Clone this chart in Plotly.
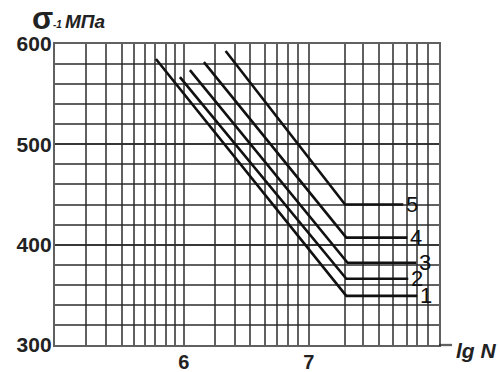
import plotly.graph_objects as go

# Fatigue curves: stress amplitude sigma_-1 (MPa) versus lg N, five variants
curve_ids = ["1", "2", "3", "4", "5"]
start_lgN = [5.776, 5.968, 6.048, 6.160, 6.334]
start_sigma = [585, 567, 574, 582, 593]
knee_lgN = [7.30, 7.30, 7.31, 7.30, 7.29]
endurance_sigma = [349, 366, 382, 407, 440]
end_lgN = [7.868, 7.796, 7.860, 7.788, 7.756]

# axis ticks
x_label_vals = [6, 7]
x_label_text = ["6", "7"]
# log-paper style vertical rulings (lg N units) inside each decade
x_grid_vals = [5.214, 5.374, 5.502, 5.600, 5.688, 5.768, 5.856, 5.928,
               6.252, 6.408, 6.528, 6.648, 6.742, 6.830, 6.910,
               7.292, 7.434, 7.562, 7.674, 7.782, 7.866, 7.954]
y_label_vals = [300, 400, 500, 600]
y_grid_step = 20

GRID = "rgba(40,40,40,0.74)"
FONT = "Liberation Sans, Arial, sans-serif"

fig = go.Figure()

for i, cid in enumerate(curve_ids):
    fig.add_trace(go.Scatter(
        x=[start_lgN[i], knee_lgN[i], end_lgN[i]],
        y=[start_sigma[i], endurance_sigma[i], endurance_sigma[i]],
        mode="lines",
        line=dict(color="#111111", width=2.6),
        showlegend=False,
        hoverinfo="skip",
        name=cid,
    ))
    fig.add_annotation(
        x=end_lgN[i], y=endurance_sigma[i], text=cid,
        xanchor="left", yanchor="middle", xshift=1,
        showarrow=False,
        font=dict(family=FONT, size=22, color="#111111"),
    )

fig.update_xaxes(
    range=[4.968, 8.042], automargin=False,
    tickmode="array", tickvals=x_label_vals, ticktext=x_label_text,
    ticks="", showgrid=True, gridcolor=GRID, gridwidth=2.3,
    minor=dict(tickmode="array", tickvals=x_grid_vals, showgrid=True,
               gridcolor=GRID, gridwidth=2.3),
    showline=True, linecolor=GRID, linewidth=2.3, mirror=True,
    zeroline=False, ticklabelstandoff=-2,
    tickfont=dict(family=FONT, size=20, color="#222222", weight="bold"),
)
fig.update_yaxes(
    range=[300, 600], automargin=False,
    tickmode="array", tickvals=y_label_vals,
    ticks="", showgrid=True, gridcolor=GRID, gridwidth=2.3,
    minor=dict(dtick=y_grid_step, tick0=300, showgrid=True,
               gridcolor=GRID, gridwidth=2.3),
    showline=True, linecolor=GRID, linewidth=2.3, mirror=True,
    zeroline=False, ticklabelstandoff=-3,
    tickfont=dict(family=FONT, size=21, color="#222222", weight="bold"),
)

# bottom axis runs on past the grid towards its label
fig.add_shape(type="line", xref="paper", yref="paper",
              x0=1, x1=1.034, y0=0, y1=0,
              line=dict(color=GRID, width=2.3))

fig.add_annotation(
    xref="paper", yref="paper", x=1.039, y=0, yshift=-5,
    xanchor="left", yanchor="middle", showarrow=False,
    text="<b><i>lg N</i></b>",
    font=dict(family=FONT, size=21, color="#222222"),
)

# axis title: sigma_-1, MPa
fig.add_annotation(
    xref="paper", yref="paper", x=0, y=1, xshift=-13, yshift=26,
    xanchor="center", yanchor="middle", showarrow=False,
    text="<b>σ</b>", font=dict(family=FONT, size=31, color="#222222"),
)
fig.add_annotation(
    xref="paper", yref="paper", x=0, y=1, xshift=2.5, yshift=20,
    xanchor="center", yanchor="middle", showarrow=False,
    text="<b><i>-1</i></b>", font=dict(family=FONT, size=10, color="#222222"),
)
fig.add_annotation(
    xref="paper", yref="paper", x=0, y=1, xshift=8, yshift=23,
    xanchor="left", yanchor="middle", showarrow=False,
    text="<b><i>МПа</i></b>", font=dict(family=FONT, size=19, color="#222222"),
)

fig.update_layout(
    width=500, height=372,
    margin=dict(l=55, r=61, t=44, b=27, autoexpand=False),
    paper_bgcolor="white", plot_bgcolor="white",
    font=dict(family=FONT),
)

fig.write_html("out.html")
